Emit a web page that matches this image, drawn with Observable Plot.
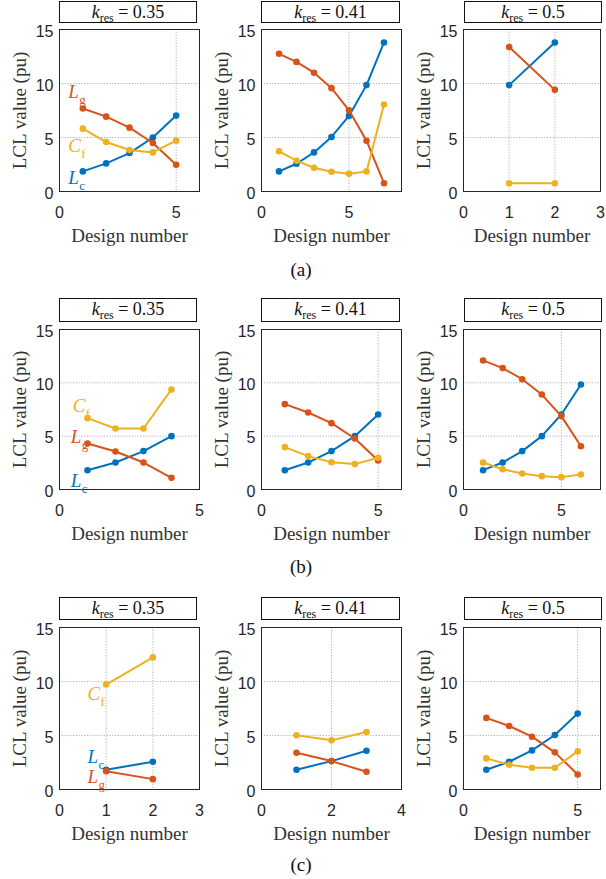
<!DOCTYPE html>
<html><head><meta charset="utf-8">
<script src="https://cdn.jsdelivr.net/npm/d3@7"></script>
<script src="https://cdn.jsdelivr.net/npm/@observablehq/plot@0.6"></script>
<style>
body{margin:0;background:#fff;}
#fig{position:relative;width:606px;height:879px;background:#fff;overflow:hidden;}
.panel{position:absolute;}
.tbox{position:absolute;box-sizing:border-box;border:1.3px solid #111;font-family:"Liberation Serif";font-size:18px;color:#111;text-align:center;line-height:20px;}
.tbox sub{font-size:12px;vertical-align:-4px;line-height:0;}
.plabel{position:absolute;font-family:"Liberation Serif";font-size:19px;color:#111;transform:translate(-50%,-50%);}
g[aria-label="y-axis label"], g[aria-label="x-axis label"]{font-family:"Liberation Serif";font-size:19px;font-weight:normal;fill:#333;}
</style>
</head><body><div id="fig"></div>
<script>
// ---------- data ----------
const kresLabels = ["0.35", "0.41", "0.5"];
const seriesKeys = ["Lc", "Lg", "Cf"];
const seriesColors = ["#0072BD", "#D95319", "#EDB120"];
const labelMain = ["L", "L", "C"];
const labelSub = ["c", "g", "f"];
const yTicks = [0, 5, 10, 15];
const rowTags = ["(a)", "(b)", "(c)"];

// (a)
const a035_Lc = [1.86, 2.6, 3.56, 5.0, 7.03];
const a035_Lg = [7.68, 6.93, 5.91, 4.49, 2.48];
const a035_Cf = [5.82, 4.58, 3.84, 3.62, 4.71];
const a041_Lc = [1.86, 2.57, 3.62, 5.05, 7.0, 9.85, 13.8];
const a041_Lg = [12.75, 12.0, 11.0, 9.57, 7.52, 4.7, 0.77];
const a041_Cf = [3.72, 2.85, 2.2, 1.83, 1.64, 1.86, 8.05];
const a05_Lc = [9.85, 13.8];
const a05_Lg = [13.37, 9.41];
const a05_Cf = [0.77, 0.77];
// (b)
const b035_Lc = [1.81, 2.53, 3.6, 5.0];
const b035_Lg = [4.31, 3.56, 2.53, 1.09];
const b035_Cf = [6.69, 5.72, 5.72, 9.38];
const b041_Lc = [1.81, 2.53, 3.6, 5.0, 7.03];
const b041_Lg = [8.0, 7.22, 6.22, 4.78, 2.72];
const b041_Cf = [3.97, 3.13, 2.56, 2.38, 2.97];
const b05_Lc = [1.81, 2.53, 3.6, 5.0, 7.03, 9.84];
const b05_Lg = [12.1, 11.38, 10.34, 8.9, 6.88, 4.06];
const b05_Cf = [2.53, 1.9, 1.5, 1.25, 1.16, 1.41];
// (c)
const c035_Lc = [1.83, 2.57];
const c035_Lg = [1.7, 0.96];
const c035_Cf = [9.72, 12.23];
const c041_Lc = [1.83, 2.63, 3.59];
const c041_Lg = [3.4, 2.63, 1.64];
const c041_Cf = [5.03, 4.55, 5.33];
const c05_Lc = [1.83, 2.57, 3.62, 5.05, 7.03];
const c05_Lg = [6.63, 5.88, 4.89, 3.44, 1.39];
const c05_Cf = [2.88, 2.29, 2.01, 2.01, 3.53];

// x axis ticks and limits per row
const xTicksA = [[0, 5], [0, 5], [0, 1, 2, 3]];
const xTicksB = [[0, 5], [0, 5], [0, 5]];
const xTicksC = [[0, 1, 2, 3], [0, 2, 4], [0, 5]];
const xMaxA = [6, 8, 3];
const xMaxB = [5, 6, 7];
const xMaxC = [3, 4, 6];

// in-plot series labels (first column), order Lc, Lg, Cf
const labA_x = [0.38, 0.38, 0.38], labA_y = [1.25, 9.26, 4.2];
const labB_x = [0.4, 0.4, 0.47], labB_y = [0.84, 4.97, 7.83];
const labC_x = [0.6, 0.6, 0.6], labC_y = [3.05, 1.2, 8.84];

// ---------- layout ----------
const colX = [[59, 199], [261, 401], [463, 600]];
const rowY = [[29, 191], [329, 489], [627, 789]];
const boxX = [[59, 197], [261, 400], [464, 602]];
const boxY = [[1, 23], [298, 322], [597, 620]];
const tagY = [270, 567, 865];

const ML = 53, MR = 4, MT = 3, MB = 60;
const fig = document.getElementById("fig");

const rowsData = [
  [[a035_Lc, a035_Lg, a035_Cf], [a041_Lc, a041_Lg, a041_Cf], [a05_Lc, a05_Lg, a05_Cf]],
  [[b035_Lc, b035_Lg, b035_Cf], [b041_Lc, b041_Lg, b041_Cf], [b05_Lc, b05_Lg, b05_Cf]],
  [[c035_Lc, c035_Lg, c035_Cf], [c041_Lc, c041_Lg, c041_Cf], [c05_Lc, c05_Lg, c05_Cf]]
];
const rowsTicks = [xTicksA, xTicksB, xTicksC];
const rowsMax = [xMaxA, xMaxB, xMaxC];
const rowsLab = [[labA_x, labA_y], [labB_x, labB_y], [labC_x, labC_y]];

const gridStyle = {stroke: "#a8a8a8", strokeOpacity: 1, strokeDasharray: "1.2,1.6", strokeWidth: 0.9};
const fmt = d => String(d);

for (let r = 0; r < 3; r++) {
  for (let c = 0; c < 3; c++) {
    const [fl, fr] = colX[c];
    const [ft, fb] = rowY[r];
    const xticks = rowsTicks[r][c];
    const series = rowsData[r][c];
    const marks = [
      Plot.gridX(xticks, gridStyle),
      Plot.gridY([5, 10], gridStyle),
      Plot.axisX({ticks: xticks, tickFormat: fmt, tickSize: 0, tickPadding: 15, fontSize: 16, fontFamily: "Liberation Sans",
        label: "Design number", labelArrow: "none", labelAnchor: "center", labelOffset: 50}),
      Plot.axisY({ticks: yTicks, tickFormat: fmt, tickSize: 0, tickPadding: 6, dy: 2, fontSize: 16, fontFamily: "Liberation Sans",
        label: "LCL value (pu)", labelArrow: "none", labelAnchor: "center", labelOffset: 47}),
      Plot.frame({stroke: "#262626", strokeWidth: 1})
    ];
    series.forEach((vals, si) => {
      const d = vals.map((v, i) => ({design: i + 1, value: v, s: seriesKeys[si]}));
      marks.push(Plot.line(d, {x: "design", y: "value", stroke: "s", strokeWidth: 2}));
      marks.push(Plot.dot(d, {x: "design", y: "value", fill: "s", r: 3.3}));
    });
    if (c === 0) {
      const [lx, ly] = rowsLab[r];
      const idx = [0, 1, 2];
      marks.push(Plot.text(idx, {x: i => lx[i], y: i => ly[i], text: i => labelMain[i], fill: i => seriesKeys[i],
        textAnchor: "start", lineAnchor: "middle", fontFamily: "Liberation Serif", fontStyle: "italic", fontSize: 19}));
      marks.push(Plot.text(idx, {x: i => lx[i], y: i => ly[i], text: i => labelSub[i], fill: i => seriesKeys[i],
        textAnchor: "start", lineAnchor: "middle", fontFamily: "Liberation Serif", fontSize: 13}));
    }
    const chart = Plot.plot({
      width: ML + (fr - fl) + MR,
      height: MT + (fb - ft) + MB,
      marginLeft: ML, marginRight: MR, marginTop: MT, marginBottom: MB,
      style: {background: "transparent", color: "#262626", fontFamily: "Liberation Sans", fontSize: "16px", overflow: "visible"},
      x: {domain: [0, rowsMax[r][c]]},
      y: {domain: [0, 15]},
      color: {domain: seriesKeys, range: seriesColors},
      marks
    });
    // remove any label arrows if the library version adds them
    chart.querySelectorAll('g[aria-label$="axis label"] text').forEach(t => {
      t.textContent = t.textContent.replace(/[\u2191\u2192\u2190\u2193]/g, "").trim();
    });
    // shift subscripts right of main letter
    chart.querySelectorAll('g[aria-label="text"]').forEach((g, gi) => {
      if (gi === 1) {
        g.querySelectorAll("text").forEach((t, i) => {
          t.setAttribute("dx", labelMain[i] === "C" ? 13 : 11);
          t.setAttribute("dy", "0.62em");
        });
      }
    });
    chart.classList.add("panel");
    chart.style.left = (fl - ML) + "px";
    chart.style.top = (ft - MT) + "px";
    fig.appendChild(chart);

    const box = document.createElement("div");
    box.className = "tbox";
    box.style.left = boxX[c][0] + "px";
    box.style.top = boxY[r][0] + "px";
    box.style.width = (boxX[c][1] - boxX[c][0]) + "px";
    box.style.height = (boxY[r][1] - boxY[r][0]) + "px";
    box.innerHTML = `<i>k</i><sub>res</sub> = ${kresLabels[c]}`;
    fig.appendChild(box);
  }
  const tag = document.createElement("div");
  tag.className = "plabel";
  tag.style.left = "301px";
  tag.style.top = tagY[r] + "px";
  tag.textContent = rowTags[r];
  fig.appendChild(tag);
}
</script>
</body></html>
